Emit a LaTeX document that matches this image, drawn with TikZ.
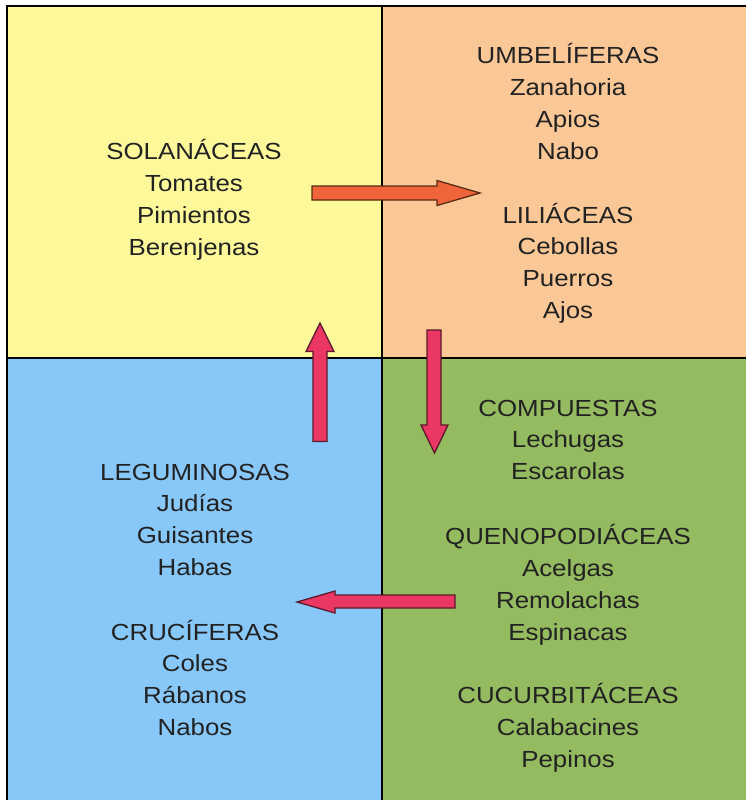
\documentclass[tikz,border=0pt]{standalone}
\usepackage{fontspec}
\setmainfont{Liberation Sans}[FakeStretch=1.11]
\definecolor{qyellow}{HTML}{FDF99B}
\definecolor{qorange}{HTML}{FAC897}
\definecolor{qblue}{HTML}{88C8F8}
\definecolor{qgreen}{HTML}{94BB60}
\definecolor{txt}{HTML}{222222}
\definecolor{arrorange}{HTML}{F0643C}
\definecolor{arrorangeline}{HTML}{5A2A12}
\definecolor{arrpink}{HTML}{EB3764}
\definecolor{arrpinkline}{HTML}{5A1A2C}
\tikzset{
  lbl/.style={anchor=base, inner sep=0pt, text=txt, font=\fontsize{23.3}{31.9}\selectfont},
  divider/.style={draw=black, line width=1.5pt},
  blockorange/.style={fill=arrorange, draw=arrorangeline, line width=1.3pt, line join=miter},
  blockpink/.style={fill=arrpink, draw=arrpinkline, line width=1.3pt, line join=miter}
}
\newcommand{\plantgroup}[4]{%
  \foreach \t [count=\i from 0] in {#4} {
    \node[lbl] (#1\i) at (#2, #3+\i*31.9) {\t};
  }%
}
\begin{document}
\begin{tikzpicture}[x=1pt, y=-1pt]
\useasboundingbox (0,0) rectangle (746,800);
\clip (0,0) rectangle (746,800);
% quadrants
\fill[white] (0,0) rectangle (746,800);
\fill[qyellow] (7,6) rectangle (382,358);
\fill[qorange] (382,6) rectangle (760,358);
\fill[qblue] (7,358) rectangle (382,810);
\fill[qgreen] (382,358) rectangle (760,810);
\draw[divider] (7,810) -- (7,6) -- (760,6);
\draw[divider] (382,6) -- (382,810);
\draw[divider] (7,358) -- (760,358);
% texts
\plantgroup{sol}{194}{159.5}{SOLANÁCEAS,Tomates,Pimientos,Berenjenas}
\plantgroup{umb}{568}{63.3}{UMBELÍFERAS,Zanahoria,Apios,Nabo}
\plantgroup{lil}{568}{223}{LILIÁCEAS,Cebollas,Puerros,Ajos}
\plantgroup{com}{568}{416}{COMPUESTAS,Lechugas,Escarolas}
\plantgroup{que}{568}{544.5}{QUENOPODIÁCEAS,Acelgas,Remolachas,Espinacas}
\plantgroup{cuc}{568}{703.5}{CUCURBITÁCEAS,Calabacines,Pepinos}
\plantgroup{leg}{195}{480}{LEGUMINOSAS,Judías,Guisantes,Habas}
\plantgroup{cru}{195}{640}{CRUCÍFERAS,Coles,Rábanos,Nabos}
% block arrows
\draw[blockorange] (312,186) -- (437,186) -- (437,180.5) -- (480,193) -- (437,205.5) -- (437,200) -- (312,200) -- cycle;
\draw[blockpink] (313,441.5) -- (313,351.5) -- (306,351.5) -- (320,323) -- (334,351.5) -- (327,351.5) -- (327,441.5) -- cycle;
\draw[blockpink] (427,330) -- (441,330) -- (441,425) -- (448,425) -- (434.5,453) -- (421,425) -- (427,425) -- cycle;
\draw[blockpink] (455,595) -- (335,595) -- (335,591) -- (297,602) -- (335,613) -- (335,608) -- (455,608) -- cycle;
\end{tikzpicture}
\end{document}
